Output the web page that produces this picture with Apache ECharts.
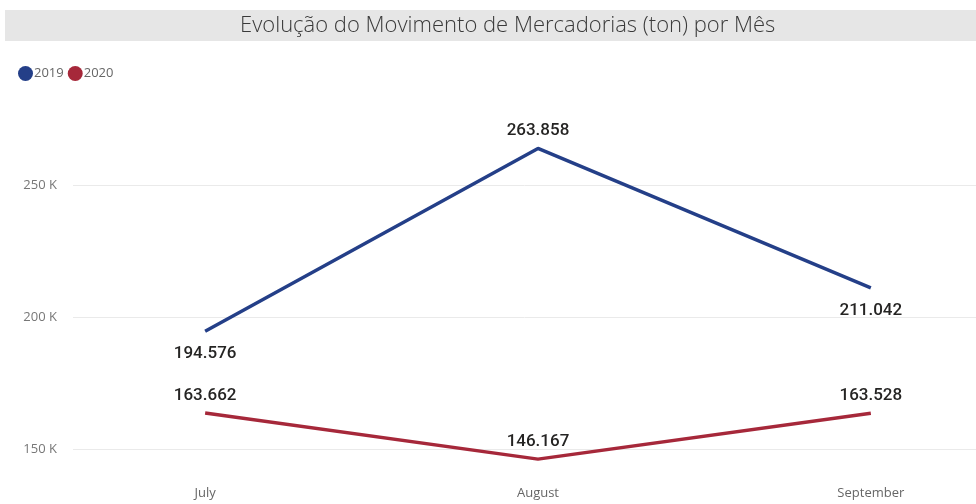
<!DOCTYPE html>
<html>
<head>
<meta charset="utf-8">
<script src="https://cdn.jsdelivr.net/npm/echarts@6/dist/echarts.min.js"></script>
<style>
  html, body { margin: 0; padding: 0; background: #fff; }
  #chart { width: 976px; height: 504px; }
</style>
</head>
<body>
<div id="chart"></div>
<script>
const months = ['July', 'August', 'September'];
const values2019 = [194576, 263858, 211042];
const values2020 = [163662, 146167, 163528];
const labelPos2019 = ['bottom', 'top', 'bottom'];
const labelPos2020 = ['top', 'top', 'top'];
const yTicks = [150000, 200000, 250000];

const chart = echarts.init(document.getElementById('chart'));

const toPoints = (vals, pos) => vals.map((v, i) => ({
  value: [i, v],
  label: { position: pos[i], distance: pos[i] === 'bottom' ? 14 : 9 }
}));

const fmt = v => (v / 1000).toFixed(3);

const lineSeries = (name, color, vals, pos) => ({
  name: name,
  type: 'line',
  clip: false,
  showSymbol: true,
  symbol: 'circle',
  symbolSize: 0.1,
  lineStyle: { width: 3.5, color: color },
  itemStyle: { color: color },
  label: {
    show: true,
    color: '#252423',
    fontFamily: 'Roboto',
    fontSize: 17,
    fontWeight: 500,
    formatter: p => fmt(p.value[1])
  },
  data: toPoints(vals, pos)
});

const option = {
  animation: false,
  graphic: [{
    type: 'rect',
    z: -1,
    shape: { x: 5, y: 10, width: 971, height: 31 },
    style: { fill: '#e6e6e6' }
  }],
  title: {
    text: 'Evolução do Movimento de Mercadorias (ton) por Mês',
    left: 240,
    top: 15,
    padding: 0,
    textStyle: {
      fontFamily: 'Open Sans',
      fontWeight: 300,
      fontSize: 22,
      color: '#3a3a3a'
    }
  },
  legend: {
    left: 13,
    top: 61,
    icon: 'circle',
    itemWidth: 15,
    itemHeight: 15,
    itemGap: 4,
    textStyle: { fontFamily: 'Open Sans', fontSize: 13, color: '#666', padding: [0, 0, 0, -4] },
    data: ['2019', '2020']
  },
  grid: { left: 73, right: 0, top: 185, bottom: 55 },
  xAxis: {
    type: 'value',
    min: -0.397,
    max: 2.316,
    splitLine: { show: false },
    axisLine: { show: false },
    axisTick: { show: false },
    axisLabel: {
      customValues: [0, 1, 2],
      margin: 38,
      fontFamily: 'Open Sans',
      fontSize: 13,
      color: '#666',
      formatter: v => months[Math.round(v)] || ''
    }
  },
  yAxis: {
    type: 'value',
    min: yTicks[0],
    max: yTicks[yTicks.length - 1],
    interval: 50000,
    axisLine: { show: false },
    axisTick: { show: false },
    splitLine: { lineStyle: { color: '#eaeaea', width: 1 } },
    axisLabel: {
      margin: 16,
      fontFamily: 'Open Sans',
      fontSize: 13,
      color: '#777',
      formatter: v => (v / 1000) + ' K'
    }
  },
  series: [
    lineSeries('2019', '#243f88', values2019, labelPos2019),
    lineSeries('2020', '#a6283a', values2020, labelPos2020)
  ]
};

chart.setOption(option);
window.addEventListener('resize', () => chart.resize());
</script>
</body>
</html>
